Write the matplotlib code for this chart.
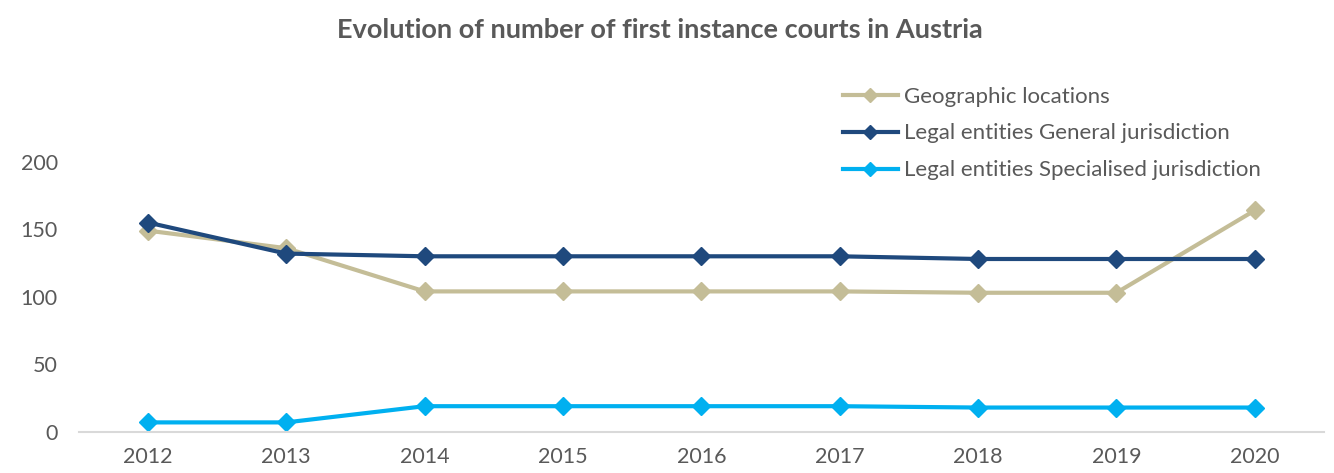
import matplotlib.pyplot as plt

years = ["2012", "2013", "2014", "2015", "2016", "2017", "2018", "2019", "2020"]
geographic = [149, 136, 104, 104, 104, 104, 103, 103, 164]
general = [155, 132, 130, 130, 130, 130, 128, 128, 128]
specialised = [7, 7, 19, 19, 19, 19, 18, 18, 18]

labels = ["Geographic locations",
          "Legal entities General jurisdiction",
          "Legal entities Specialised jurisdiction"]
colors = ["#C4BD97", "#1F497D", "#00B0F0"]

plt.rcParams['font.family'] = ['Lato', 'DejaVu Sans']

fig = plt.figure(figsize=(13.34, 4.73), dpi=100)
ax = fig.add_axes([0.059, 0.087, 0.9335, 0.571])

x = range(len(years))
for vals, lab, col in zip([geographic, general, specialised], labels, colors):
    ax.plot(x, vals, color=col, lw=3, marker='D', markersize=9, label=lab)

ax.set_xlim(-0.5, len(years) - 0.5)
ax.set_ylim(0, 200)
ax.set_yticks([0, 50, 100, 150, 200])
ax.set_xticks(list(x))
ax.set_xticklabels(years)
ax.tick_params(axis='both', length=0, labelsize=15.5, colors='#595959')
ax.tick_params(axis='y', pad=15)
ax.tick_params(axis='x', pad=11)
for s in ['top', 'right', 'left']:
    ax.spines[s].set_visible(False)
ax.spines['bottom'].set_color('#D9D9D9')
ax.spines['bottom'].set_linewidth(1.5)

fig.text(0.495, 0.937, "Evolution of number of first instance courts in Austria",
         ha='center', va='center', fontsize=19.5, fontweight='bold', color='#595959')

fig.legend(loc='upper left', bbox_to_anchor=(0.632, 0.817), frameon=False,
           fontsize=16, labelcolor='#595959', handlelength=2.45,
           handletextpad=0.3, labelspacing=0.76, borderpad=0,
           borderaxespad=0, markerscale=0.75)

fig.savefig("out.png", dpi=100)
